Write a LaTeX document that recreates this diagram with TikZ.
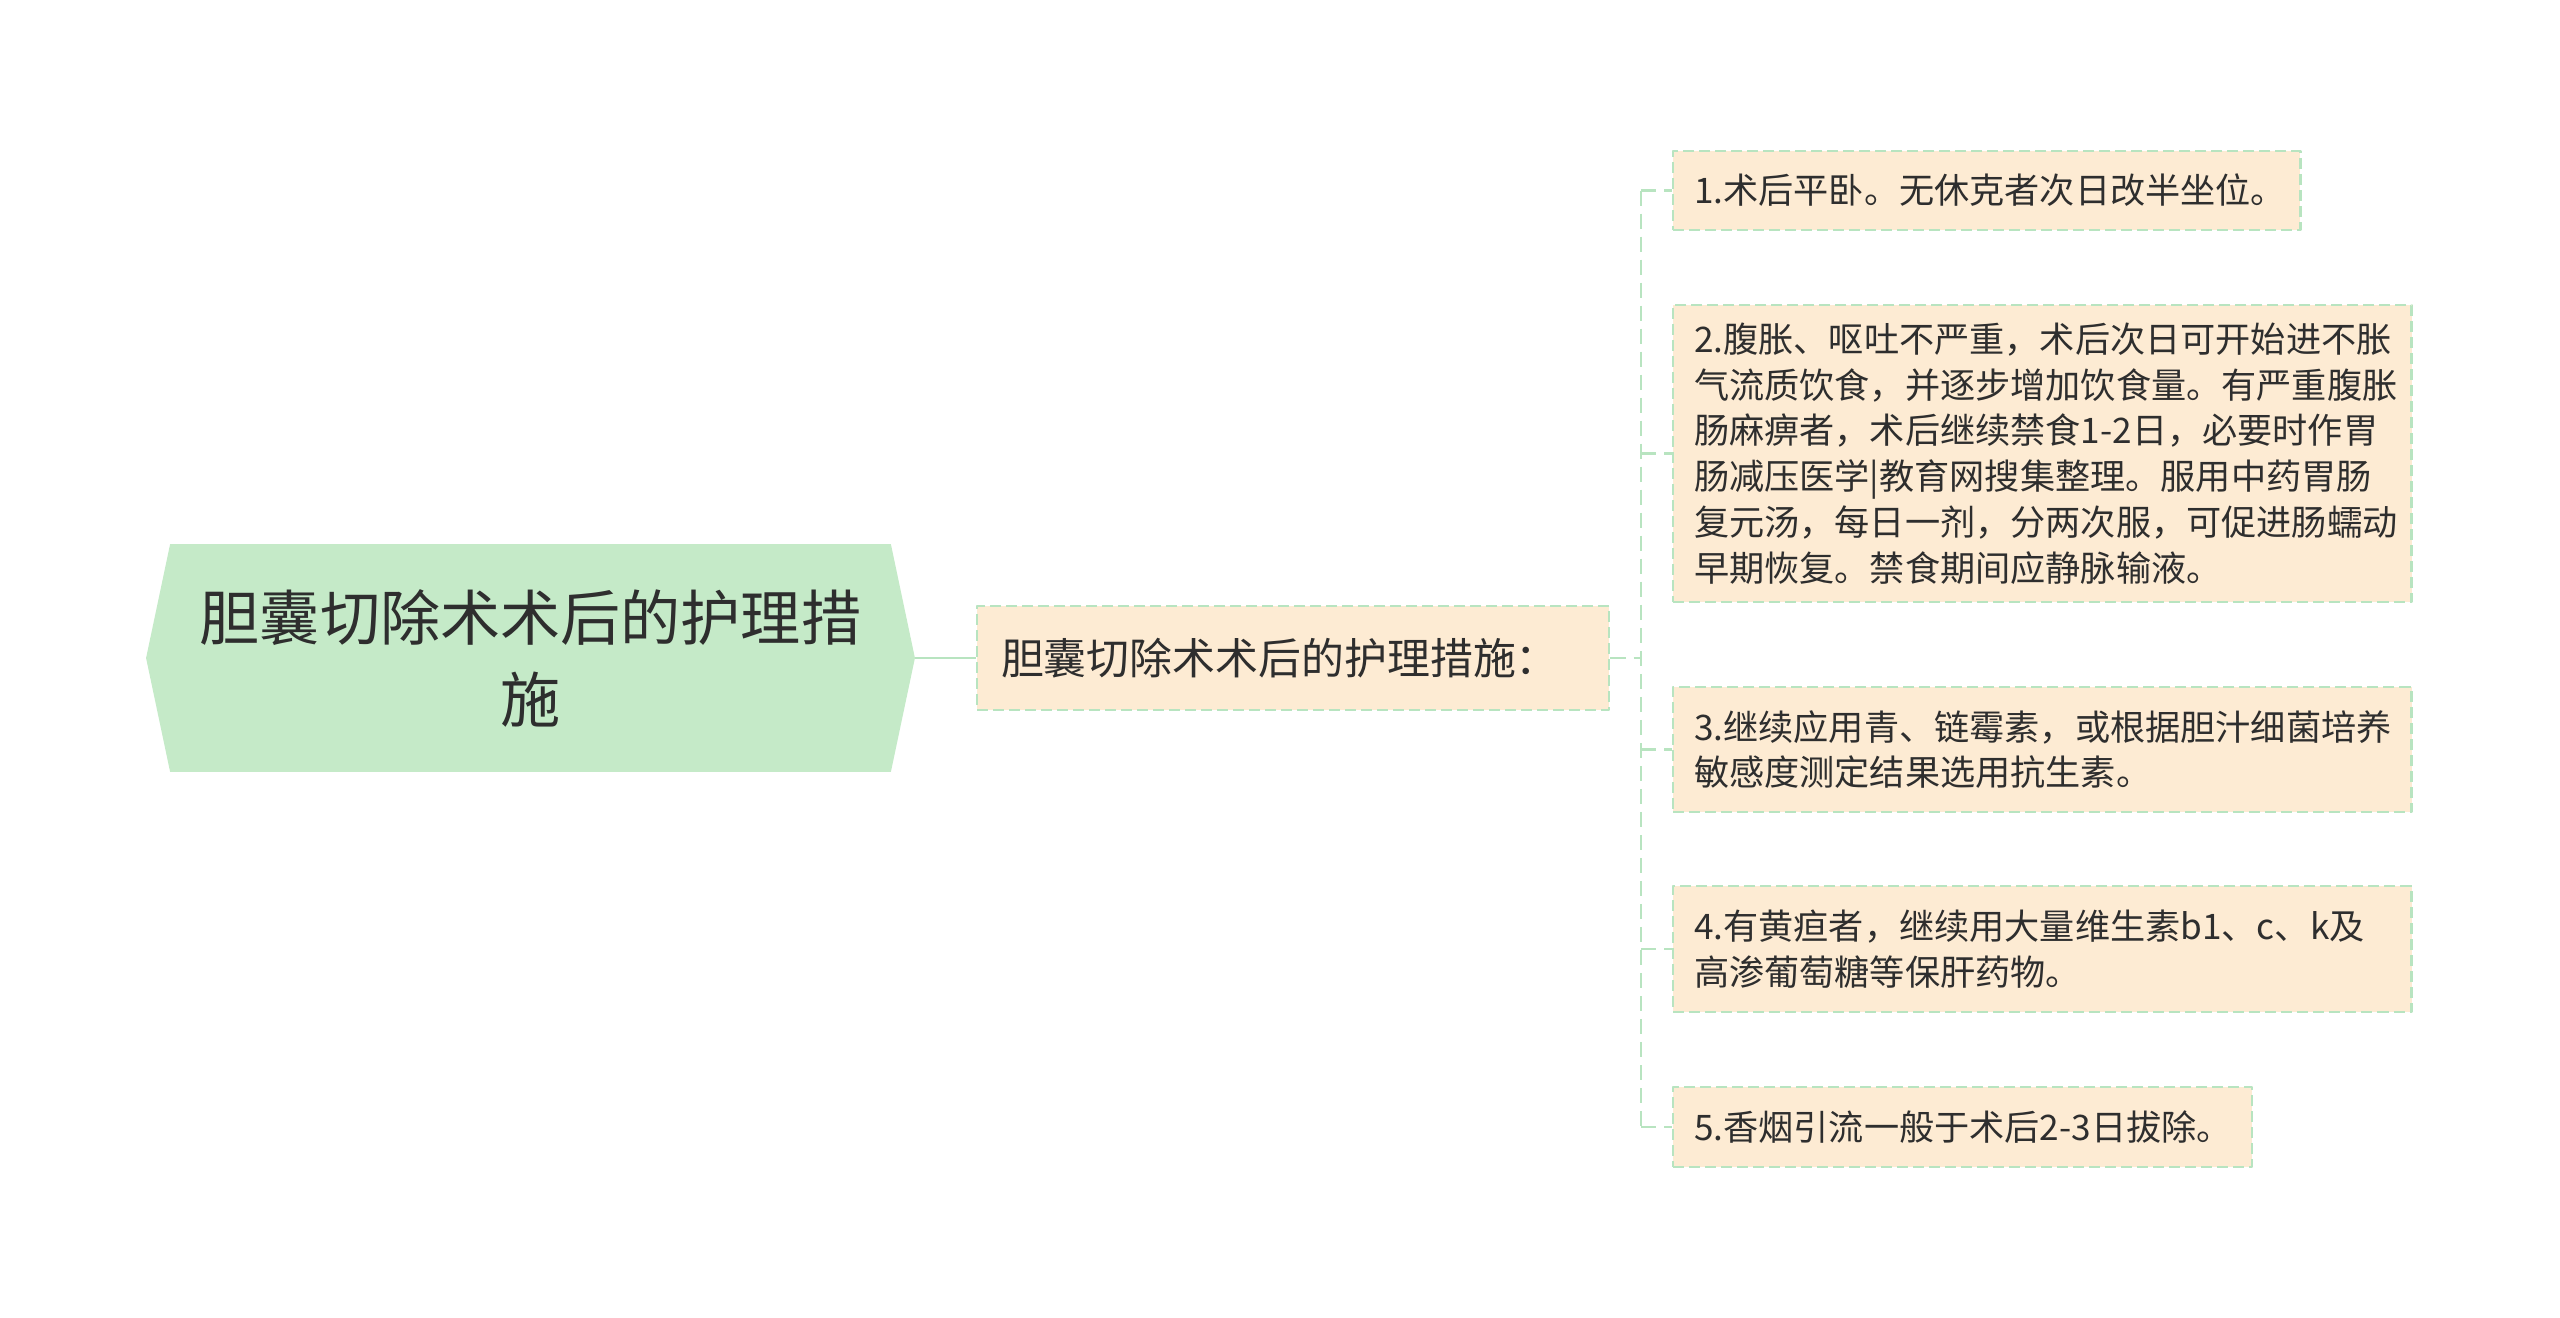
\documentclass[tikz,border=0pt]{standalone}
\usepackage{fontspec}
\newfontfamily\cjk{Noto Sans CJK SC}
\usetikzlibrary{backgrounds}
\definecolor{mintfill}{HTML}{C5EAC8}
\definecolor{peach}{HTML}{FDEBD3}
\definecolor{mintline}{HTML}{B8E4C0}
\definecolor{ink}{HTML}{2E2E2E}
\begin{document}
\begin{tikzpicture}[x=0.01cm, y=-0.01cm, line join=round, text=ink,
	leaf/.style={draw=mintline, line width=0.6pt, dash pattern=on 0.11cm off 0.05cm, fill=peach, anchor=west, inner xsep=0.21cm, inner ysep=0pt, align=left, font=\cjk\fontsize{10pt}{13pt}\selectfont},
	link/.style={draw=mintline, line width=0.8pt, dash pattern=on 0.15cm off 0.08cm}]
			\useasboundingbox (0,0) rectangle (2560,1317);
			\node[minimum width=7.67cm, minimum height=2.26cm, inner sep=0pt, align=center, font=\cjk\fontsize{17.1pt}{23.3pt}\selectfont] (root) at (530.5,658) {胆囊切除术术后的护理措\\施};
			\begin{scope}[on background layer]
			\fill[mintfill] (root.west)--([xshift=0.24cm]root.north west)--([xshift=-0.24cm]root.north east)--(root.east)--([xshift=-0.24cm]root.south east)--([xshift=0.24cm]root.south west)--cycle;
			\end{scope}
			\node[leaf, inner xsep=0.24cm, text width=5.84cm, minimum height=1.04cm, font=\cjk\fontsize{12.2pt}{15pt}\selectfont] (care) at (976,658) {胆囊切除术术后的护理措施：};
			\node[leaf, text width=5.85cm, minimum height=0.79cm] (s1) at (1672,190.5) {\mbox{1.术后平卧。无休克者次日改半坐位。}};
			\node[leaf, text width=6.96cm, minimum height=2.97cm] (s2) at (1672,453.5) {2.腹胀、呕吐不严重，术后次日可开始进不胀\\气流质饮食，并逐步增加饮食量。有严重腹胀\\肠麻痹者，术后继续禁食1-2日，必要时作胃\\肠减压医学|教育网搜集整理。服用中药胃肠\\复元汤，每日一剂，分两次服，可促进肠蠕动\\早期恢复。禁食期间应静脉输液。};
			\node[leaf, text width=6.96cm, minimum height=1.25cm] (s3) at (1672,749.5) {3.继续应用青、链霉素，或根据胆汁细菌培养\\敏感度测定结果选用抗生素。};
			\node[leaf, text width=6.96cm, minimum height=1.26cm] (s4) at (1672,949) {4.有黄疸者，继续用大量维生素b1、c、k及\\高渗葡萄糖等保肝药物。};
			\node[leaf, text width=5.37cm, minimum height=0.80cm] (s5) at (1672,1127) {\mbox{5.香烟引流一般于术后2-3日拔除。}};
			\draw[mintline, line width=0.8pt] (root.east)--(care.west);
			\coordinate (bus) at (1641,658);
			\draw[link] (care.east)--(bus);
			\draw[link] (bus |- s1.west)--(bus |- s5.west);
			\foreach \s in {s1,s2,s3,s4,s5}
				\draw[link] (bus |- \s.west)--(\s.west);
		\end{tikzpicture}
\end{document}
